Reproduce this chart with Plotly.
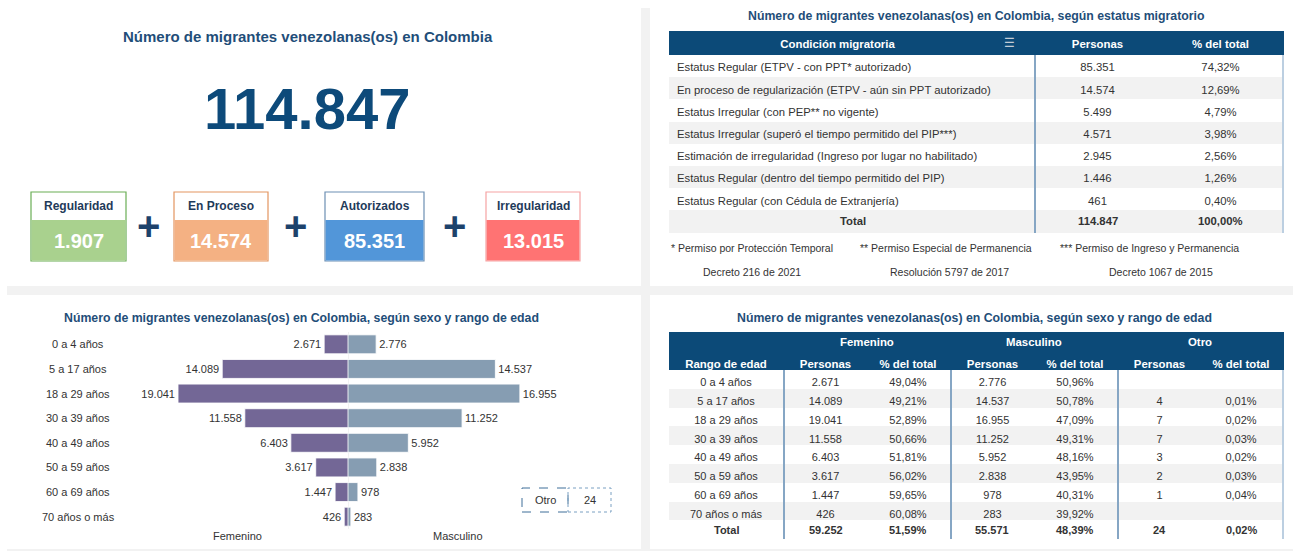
import plotly.graph_objects as go

W, H = 1300, 551


def px(x):
    return x / W


def py(y):
    return 1 - y / H


# ---------------- data ----------------
kpi_labels = ["Regularidad", "En Proceso", "Autorizados", "Irregularidad"]
kpi_values = [1907, 14574, 85351, 13015]

status_labels = [
    "Estatus Regular (ETPV - con PPT* autorizado)",
    "En proceso de regularización (ETPV - aún sin PPT autorizado)",
    "Estatus Irregular (con PEP** no vigente)",
    "Estatus Irregular (superó el tiempo permitido del PIP***)",
    "Estimación de irregularidad (Ingreso por lugar no habilitado)",
    "Estatus Regular (dentro del tiempo permitido del PIP)",
    "Estatus Regular (con Cédula de Extranjería)",
]
status_personas = [85351, 14574, 5499, 4571, 2945, 1446, 461]
status_pct = [74.32, 12.69, 4.79, 3.98, 2.56, 1.26, 0.40]

footnote_marks = ["* Permiso por Protección Temporal",
                  "** Permiso Especial de Permanencia",
                  "*** Permiso de Ingreso y Permanencia"]
footnote_norms = ["Decreto 216 de 2021", "Resolución 5797 de 2017", "Decreto 1067 de 2015"]

ages = ["0 a 4 años", "5 a 17 años", "18 a 29 años", "30 a 39 años",
        "40 a 49 años", "50 a 59 años", "60 a 69 años", "70 años o más"]
fem = [2671, 14089, 19041, 11558, 6403, 3617, 1447, 426]
fem_pct = [49.04, 49.21, 52.89, 50.66, 51.81, 56.02, 59.65, 60.08]
masc = [2776, 14537, 16955, 11252, 5952, 2838, 978, 283]
masc_pct = [50.96, 50.78, 47.09, 49.31, 48.16, 43.95, 40.31, 39.92]
otro = [None, 4, 7, 7, 3, 2, 1, None]
otro_pct = [None, 0.01, 0.02, 0.03, 0.02, 0.03, 0.04, None]

# ---------------- styles ----------------
FONT = "Arial"
NAVY = "#0c4a78"
TITLE = "#1f4e79"
SEP = "#86a6c4"
EDGE = "#bccfe1"
GRAY = "#f2f2f2"
TXT = "#333333"
kpi_fill = ["#a9d18e", "#f4b183", "#5296d9", "#ff7373"]
kpi_line = ["#6aae55", "#e39560", "#6d8fb3", "#f5a3a3"]
kpi_x = [(31, 126), (174, 268), (325, 424), (486, 580)]
plus_x = [148, 295, 455]


def fmt_int(v):
    return f"{v:,}".replace(",", ".")


def fmt_pct(p):
    return f"{p:.2f}%".replace(".", ",")


def b(s):
    return "<b>" + s + "</b>"


fig = go.Figure()
shapes = []
annotations = []


def ann(text, x, y, size, color=TXT, bold=False, xanchor="center", yref="paper", xref="paper"):
    annotations.append(dict(
        text=b(text) if bold else text,
        x=px(x) if xref == "paper" else x,
        y=py(y) if yref == "paper" else y,
        xref=xref, yref=yref, xanchor=xanchor, yanchor="middle",
        showarrow=False, font=dict(family=FONT, size=size, color=color)))


# ---------------- background strips ----------------
for (x0, x1, y0, y1) in [(641, 650, 8, 551), (7, 1293, 286, 295), (7, 1293, 549, 551)]:
    shapes.append(dict(type="rect", xref="paper", yref="paper", x0=px(x0), x1=px(x1),
                       y0=py(y1), y1=py(y0), fillcolor=GRAY, line=dict(width=0), layer="below"))

# ---------------- top-left KPI panel ----------------
total = sum(kpi_values)
ann("Número de migrantes venezolanas(os) en Colombia", 308, 36, 15, TITLE, bold=True)
ann(fmt_int(total), 307, 108, 58, "#0d4a7a", bold=True)

for i, lab in enumerate(kpi_labels):
    x0, x1 = kpi_x[i]
    shapes.append(dict(type="rect", xref="paper", yref="paper", x0=px(x0), x1=px(x1),
                       y0=py(261), y1=py(192), fillcolor="white",
                       line=dict(color=kpi_line[i], width=1.2)))
    shapes.append(dict(type="rect", xref="paper", yref="paper", x0=px(x0 + 0.6), x1=px(x1 - 0.6),
                       y0=py(260.4), y1=py(220), fillcolor=kpi_fill[i], line=dict(width=0)))
    ann(lab, (x0 + x1) / 2, 206, 12, "#1f3b5a", bold=True)
    ann(fmt_int(kpi_values[i]), (x0 + x1) / 2, 241, 20, "white", bold=True)

for xp in plus_x:
    ann("+", xp, 226, 40, "#1d426b", bold=True)

# ---------------- top-right status table ----------------
ann("Número de migrantes venezolanas(os) en Colombia, según estatus migratorio", 976, 16, 12.3, TITLE, bold=True)

T1_X0, T1_TOP, T1_HEAD, T1_ROW = 669, 31, 24, 22.2
t1_widths = [337, 28, 2, 123, 123, 2]
t1_centers = [T1_X0 + sum(t1_widths[:k]) + t1_widths[k] / 2 for k in range(len(t1_widths))]
n1 = len(status_labels) + 1
row_fill1 = ["white" if i % 2 == 0 else GRAY for i in range(n1)]
fig.add_trace(go.Table(
    domain=dict(x=[px(T1_X0), px(T1_X0 + sum(t1_widths))], y=[py(242), py(T1_TOP)]),
    columnwidth=t1_widths,
    header=dict(
        values=["Condición migratoria", "", "", "Personas", "% del total", ""],
        fill=dict(color=NAVY), line=dict(width=0, color=NAVY),
        font=dict(family=FONT, size=11.4, color="white", weight="bold"),
        align="center", height=T1_HEAD),
    cells=dict(
        values=[status_labels + [""],
                [""] * n1, [""] * n1,
                [fmt_int(v) for v in status_personas] + [""],
                [fmt_pct(p) for p in status_pct] + [""],
                [""] * n1],
        fill=dict(color=[row_fill1, row_fill1, [SEP] * n1, row_fill1, row_fill1, [EDGE] * n1]),
        line=dict(width=0, color="white"),
        font=dict(family=FONT, size=11.3, color=TXT),
        align=["left", "center", "center", "center", "center", "center"],
        height=T1_ROW),
))
# filter icon in the header
ann("☰", 1009, T1_TOP + T1_HEAD / 2, 12, "#c3ccd6")
# total row (bold)
y_tot1 = T1_TOP + T1_HEAD + T1_ROW * (n1 - 0.5)
ann("Total", (T1_X0 + t1_centers[2]) / 2 + 0.5, y_tot1, 11.3, TXT, bold=True)
ann(fmt_int(sum(status_personas)), t1_centers[3], y_tot1, 11.3, TXT, bold=True)
ann(fmt_pct(sum(status_pct)), t1_centers[4], y_tot1, 11.3, TXT, bold=True)

for i in range(3):
    ann(footnote_marks[i], [669, 858, 1058][i], 248, 10.5, TXT, xanchor="left")
    ann(footnote_norms[i], [752, 949, 1161][i], 272, 10.5, TXT)

# ---------------- bottom-left pyramid ----------------
ann("Número de migrantes venezolanas(os) en Colombia, según sexo y rango de edad", 301, 318, 12.3, TITLE, bold=True)

fig.add_trace(go.Bar(
    x=fem, y=ages, orientation="h", xaxis="x", yaxis="y", name="Femenino",
    marker=dict(color="#736796", line=dict(color="rgba(255,255,255,0.85)", width=1)),
    texttemplate="%{x:,}", textposition="outside", cliponaxis=False, constraintext="none",
    outsidetextfont=dict(family=FONT, size=11, color=TXT), hoverinfo="skip"))
fig.add_trace(go.Bar(
    x=masc, y=ages, orientation="h", xaxis="x2", yaxis="y", name="Masculino",
    marker=dict(color="#869db2", line=dict(color="rgba(255,255,255,0.85)", width=1)),
    texttemplate="%{x:,}", textposition="outside", cliponaxis=False, constraintext="none",
    outsidetextfont=dict(family=FONT, size=11, color=TXT), hoverinfo="skip"))

shapes.append(dict(type="line", xref="x2", yref="y domain", x0=0, x1=0, y0=0, y1=1,
                   line=dict(color="#e6e6e6", width=1), layer="below"))

for a in ages:
    annotations.append(dict(text=a, x=px(78), y=a, xref="paper", yref="y", showarrow=False,
                            xanchor="center", yanchor="middle",
                            font=dict(family=FONT, size=11, color=TXT)))
annotations.append(dict(text="Femenino", x=0.5, y=py(536), xref="x domain", yref="paper",
                        xanchor="center", yanchor="middle",
                        showarrow=False, font=dict(family=FONT, size=11, color=TXT)))
annotations.append(dict(text="Masculino", x=0.5, y=py(536), xref="x2 domain", yref="paper",
                        xanchor="center", yanchor="middle",
                        showarrow=False, font=dict(family=FONT, size=11, color=TXT)))

otro_total = sum(v for v in otro if v is not None)
shapes.append(dict(type="rect", xref="paper", yref="paper", x0=px(522), x1=px(568), y0=py(512), y1=py(488),
                   line=dict(color="#3e6f99", width=1, dash="dash"), fillcolor="rgba(0,0,0,0)"))
shapes.append(dict(type="rect", xref="paper", yref="paper", x0=px(568), x1=px(611), y0=py(512), y1=py(488),
                   line=dict(color="#7aa0c2", width=1, dash="dot"), fillcolor="rgba(0,0,0,0)"))
ann("Otro", 545, 500, 11, TXT)
ann(fmt_int(otro_total), 589.5, 500, 11, TXT)

# ---------------- bottom-right age table ----------------
ann("Número de migrantes venezolanas(os) en Colombia, según sexo y rango de edad", 974, 318, 12.3, TITLE, bold=True)

T2_X0, T2_TOP, T2_HEAD, T2_ROW = 669, 351, 19, 18.8
t2_widths = [114, 2, 81, 84, 2, 81, 84, 2, 81, 82, 2]
t2_centers = [T2_X0 + sum(t2_widths[:k]) + t2_widths[k] / 2 for k in range(len(t2_widths))]

shapes.append(dict(type="rect", xref="paper", yref="paper", x0=px(T2_X0), x1=px(T2_X0 + sum(t2_widths)),
                   y0=py(T2_TOP + 0.5), y1=py(332), fillcolor=NAVY, line=dict(width=0)))
ann("Femenino", (t2_centers[2] + t2_centers[3]) / 2, 342, 11.4, "white", bold=True)
ann("Masculino", (t2_centers[5] + t2_centers[6]) / 2, 342, 11.4, "white", bold=True)
ann("Otro", (t2_centers[8] + t2_centers[9]) / 2, 342, 11.4, "white", bold=True)


def opt_int(v):
    return "" if v is None else fmt_int(v)


def opt_pct(p):
    return "" if p is None else fmt_pct(p)


grand = sum(fem) + sum(masc) + otro_total
n2 = len(ages) + 1
row_fill2 = ["white" if i % 2 == 0 else GRAY for i in range(n2)]
fig.add_trace(go.Table(
    domain=dict(x=[px(T2_X0), px(T2_X0 + sum(t2_widths))], y=[py(548), py(T2_TOP)]),
    columnwidth=t2_widths,
    header=dict(
        values=["Rango de edad", "", "Personas", "% del total", "",
                "Personas", "% del total", "", "Personas", "% del total", ""],
        fill=dict(color=NAVY), line=dict(width=0, color=NAVY),
        font=dict(family=FONT, size=11.4, color="white", weight="bold"), align="center", height=T2_HEAD),
    cells=dict(
        values=[ages + [""],
                [""] * n2,
                [fmt_int(v) for v in fem] + [""],
                [fmt_pct(p) for p in fem_pct] + [""],
                [""] * n2,
                [fmt_int(v) for v in masc] + [""],
                [fmt_pct(p) for p in masc_pct] + [""],
                [""] * n2,
                [opt_int(v) for v in otro] + [""],
                [opt_pct(p) for p in otro_pct] + [""],
                [""] * n2],
        fill=dict(color=[row_fill2, [SEP] * n2, row_fill2, row_fill2, [SEP] * n2, row_fill2,
                         row_fill2, [SEP] * n2, row_fill2, row_fill2, [EDGE] * n2]),
        line=dict(width=0, color="white"),
        font=dict(family=FONT, size=11, color=TXT),
        align="center", height=T2_ROW),
))
# total row (bold)
y_tot2 = T2_TOP + T2_HEAD + T2_ROW * (n2 - 0.5)
tot_texts = {0: "Total",
             2: fmt_int(sum(fem)), 3: fmt_pct(100 * sum(fem) / grand),
             5: fmt_int(sum(masc)), 6: fmt_pct(100 * sum(masc) / grand),
             8: fmt_int(otro_total), 9: fmt_pct(100 * otro_total / grand)}
for k, t in tot_texts.items():
    ann(t, t2_centers[k], y_tot2, 11, TXT, bold=True)

fig.update_layout(
    width=W, height=H, margin=dict(l=0, r=0, t=0, b=0),
    paper_bgcolor="white", plot_bgcolor="rgba(0,0,0,0)",
    separators=",.", showlegend=False, barmode="overlay", bargap=0.23,
    font=dict(family=FONT, color=TXT),
    xaxis=dict(domain=[px(127), px(348)], range=[max(fem) * 1.30, 0], visible=False, fixedrange=True),
    xaxis2=dict(domain=[px(348), px(568)], range=[0, max(masc) * 1.28], anchor="y", visible=False,
                fixedrange=True),
    yaxis=dict(domain=[py(529), py(332)], categoryorder="array", categoryarray=ages,
               autorange="reversed", visible=False, fixedrange=True),
    shapes=shapes, annotations=annotations,
)

fig.write_html("out.html", config={"displayModeBar": False},
               post_script="document.body.style.margin='0px';document.body.style.padding='0px';")
